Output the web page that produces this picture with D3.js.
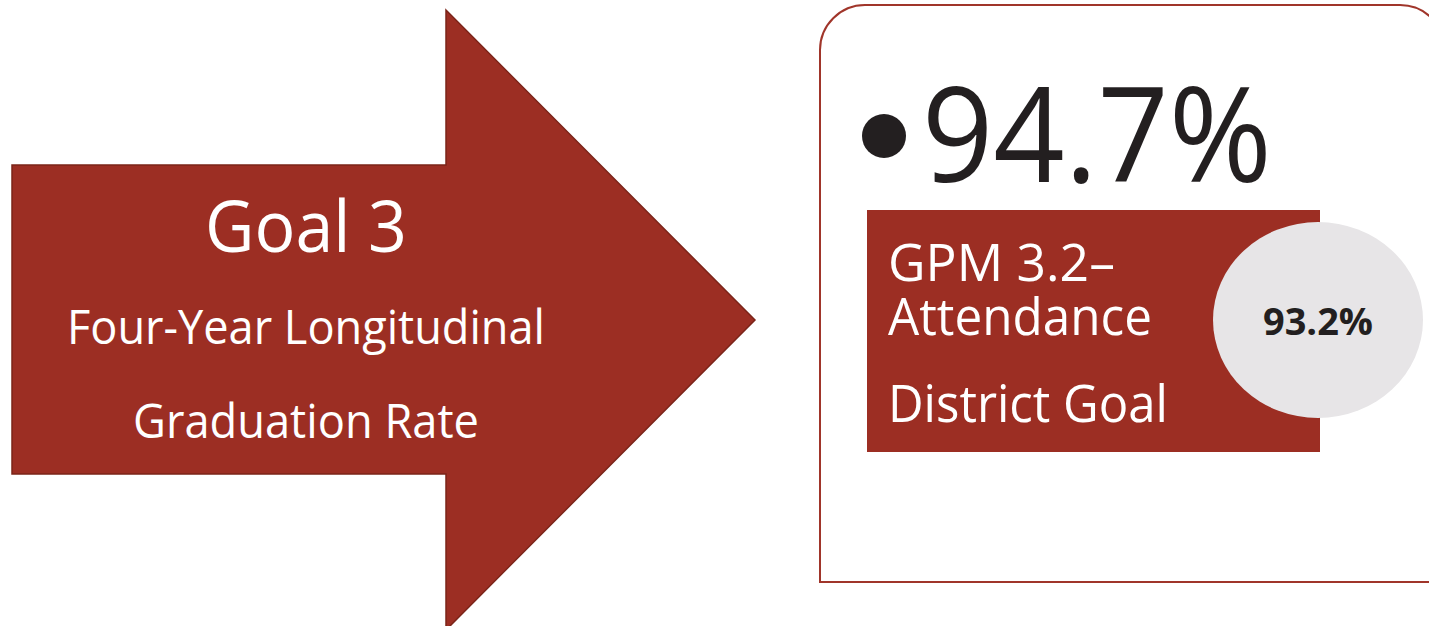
<!DOCTYPE html>
<html>
<head>
<meta charset="utf-8">
<script src="https://cdn.jsdelivr.net/npm/d3@7"></script>
<style>
  body { margin: 0; background: #fff; }
  svg { display: block; }
  text { font-family: "Open Sans", "Noto Sans", sans-serif; }
</style>
</head>
<body>
<svg id="chart"></svg>
<script>
var width = 1429,
    height = 626;

// content
var goalLines = ["Goal 3", "Four-Year Longitudinal", "Graduation Rate"];
var resultValue = ["94.7%"];
var measureLines = ["GPM 3.2\u2013", "Attendance", "District Goal"];
var targetValue = ["93.2%"];

var red = "#9c2e23",
    redEdge = "#7b2419",
    ink = "#231f20",
    grey = "#e7e5e7";

var svg = d3.select("#chart")
  .attr("width", width)
  .attr("height", height);

// ---- arrow ----
var arrow = {shaftLeft: 12, shaftTop: 165, shaftBottom: 474, headX: 446, headTop: 10, tipX: 755, tipY: 320, headBottom: 630};

var arrowPts = [
  [arrow.shaftLeft, arrow.shaftTop],
  [arrow.headX, arrow.shaftTop],
  [arrow.headX, arrow.headTop],
  [arrow.tipX, arrow.tipY],
  [arrow.headX, arrow.headBottom],
  [arrow.headX, arrow.shaftBottom],
  [arrow.shaftLeft, arrow.shaftBottom]
];

svg.append("path")
  .attr("d", d3.line()(arrowPts) + "Z")
  .attr("fill", red)
  .attr("stroke", redEdge)
  .attr("stroke-width", 1.5);

// line layout for text in the arrow
var goalY = d3.scaleOrdinal().domain(goalLines).range([252, 344, 438]);
var goalSize = d3.scaleOrdinal().domain(goalLines).range([71, 48, 48]);
var goalWidth = d3.scaleOrdinal().domain(goalLines).range([202, 478, 346]);

svg.append("g")
  .selectAll("text")
  .data(goalLines)
  .enter().append("text")
    .attr("x", 306)
    .attr("y", function(d) { return goalY(d); })
    .attr("text-anchor", "middle")
    .attr("fill", "#fff")
    .style("font-size", function(d) { return goalSize(d) + "px"; })
    .attr("textLength", function(d) { return goalWidth(d); })
    .attr("lengthAdjust", "spacingAndGlyphs")
    .text(function(d) { return d; });

// ---- right panel ----
var box = {left: 820, top: 5, right: 1445, bottom: 582, r: 45};

var boxPath = d3.path();
boxPath.moveTo(box.left, box.bottom);
boxPath.lineTo(box.left, box.top + box.r);
boxPath.arcTo(box.left, box.top, box.left + box.r, box.top, box.r);
boxPath.lineTo(box.right - box.r, box.top);
boxPath.arcTo(box.right, box.top, box.right, box.top + box.r, box.r);
boxPath.lineTo(box.right, box.bottom);
boxPath.closePath();

svg.append("path")
  .attr("d", boxPath.toString())
  .attr("fill", "#fff")
  .attr("stroke", "#a0352a")
  .attr("stroke-width", 2);

// bullet + big value
svg.append("circle")
  .attr("cx", 884)
  .attr("cy", 136)
  .attr("r", 22)
  .attr("fill", ink);

svg.selectAll(".result")
  .data(resultValue)
  .enter().append("text")
    .attr("class", "result")
    .attr("x", 922)
    .attr("y", 182)
    .attr("fill", ink)
    .style("font-size", "132px")
    .attr("textLength", 350)
    .attr("lengthAdjust", "spacingAndGlyphs")
    .text(function(d) { return d; });

// measure box
svg.append("rect")
  .attr("x", 867)
  .attr("y", 210)
  .attr("width", 1320 - 867)
  .attr("height", 452 - 210)
  .attr("fill", red);

var measureY = d3.scaleOrdinal().domain(measureLines).range([281, 335, 422]);
var measureWidth = d3.scaleOrdinal().domain(measureLines).range([227, 264, 280]);

svg.append("g")
  .selectAll("text")
  .data(measureLines)
  .enter().append("text")
    .attr("x", 888)
    .attr("y", function(d) { return measureY(d); })
    .attr("fill", "#fff")
    .style("font-size", "51px")
    .attr("textLength", function(d) { return measureWidth(d); })
    .attr("lengthAdjust", "spacingAndGlyphs")
    .text(function(d) { return d; });

// target circle
svg.append("ellipse")
  .attr("cx", 1318)
  .attr("cy", 320)
  .attr("rx", 105)
  .attr("ry", 98)
  .attr("fill", grey);

svg.selectAll(".target")
  .data(targetValue)
  .enter().append("text")
    .attr("class", "target")
    .attr("x", 1318)
    .attr("y", 335)
    .attr("text-anchor", "middle")
    .attr("fill", ink)
    .style("font-size", "38px")
    .style("font-weight", "bold")
    .attr("textLength", 110)
    .attr("lengthAdjust", "spacingAndGlyphs")
    .text(function(d) { return d; });
</script>
</body>
</html>
